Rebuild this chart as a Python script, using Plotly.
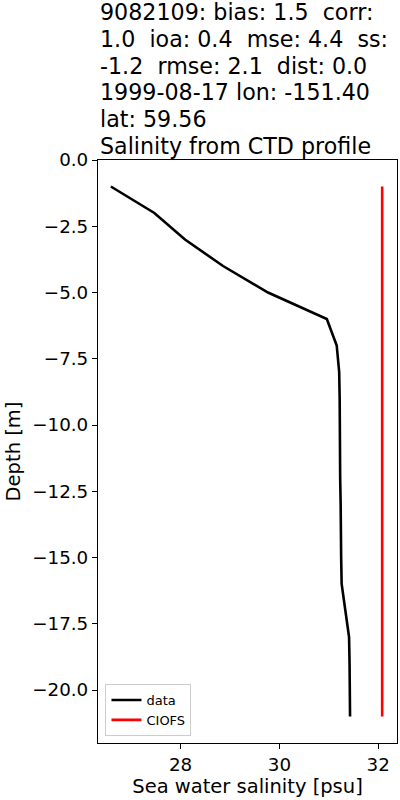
import plotly.graph_objects as go

# CTD cast 9082109 vs CIOFS model
depth = [-1, -2, -3, -4, -5, -6, -7, -8, -9, -10, -11, -12, -13, -14, -15, -16, -17, -18, -19, -20, -21]
salt_data = [26.59, 27.47, 28.09, 28.86, 29.77, 30.96, 31.16, 31.21, 31.22, 31.22, 31.23,
             31.23, 31.24, 31.24, 31.25, 31.26, 31.33, 31.41, 31.42, 31.43, 31.43]
salt_model = [32.08] * len(depth)

title_lines = [
    "9082109: bias: 1.5  corr:",
    "1.0  ioa: 0.4  mse: 4.4  ss:",
    "-1.2  rmse: 2.1  dist: 0.0",
    "1999-08-17 lon: -151.40",
    "lat: 59.56",
    "Salinity from CTD profile",
]

font_family = "DejaVu Sans, sans-serif"

fig = go.Figure()
fig.add_trace(go.Scatter(x=salt_data, y=depth, mode="lines", name="data",
                         line=dict(color="black", width=2.6)))
fig.add_trace(go.Scatter(x=salt_model, y=depth, mode="lines", name="CIOFS",
                         line=dict(color="red", width=2.6)))

axis_common = dict(
    showgrid=False, zeroline=False, showline=True, linecolor="black", linewidth=1.2,
    mirror=True, ticks="outside", ticklen=5, tickcolor="black",
    tickfont=dict(size=18.3, color="black"),
)

fig.update_layout(
    width=400, height=800,
    margin=dict(l=98, r=3, t=160, b=57),
    paper_bgcolor="white", plot_bgcolor="white",
    font=dict(family=font_family, color="black"),
    showlegend=True,
    legend=dict(x=0.025, y=0.012, xanchor="left", yanchor="bottom",
                bgcolor="white", bordercolor="#cccccc", borderwidth=1,
                font=dict(size=13), tracegroupgap=0),
    xaxis=dict(range=[26.33, 32.38], tickvals=[28, 30, 32],
               title=dict(text="Sea water salinity [psu]", font=dict(size=19.5), standoff=5),
               **axis_common),
    yaxis=dict(range=[-22, 0], dtick=2.5, tick0=0, tickformat=".1f",
               title=dict(text="Depth [m]", font=dict(size=19.5), standoff=6),
               **axis_common),
)

# wrapped title, one annotation per line
for i, line in enumerate(title_lines):
    fig.add_annotation(text=line, xref="paper", yref="paper", x=0, xanchor="left",
                       y=1, yshift=-1 + (len(title_lines) - 1 - i) * 26.8, yanchor="bottom",
                       showarrow=False, font=dict(size=22.2, color="black"))

fig.write_html("out.html", config={"displayModeBar": False},
               post_script="document.body.style.margin='0';document.body.style.overflow='hidden';")
